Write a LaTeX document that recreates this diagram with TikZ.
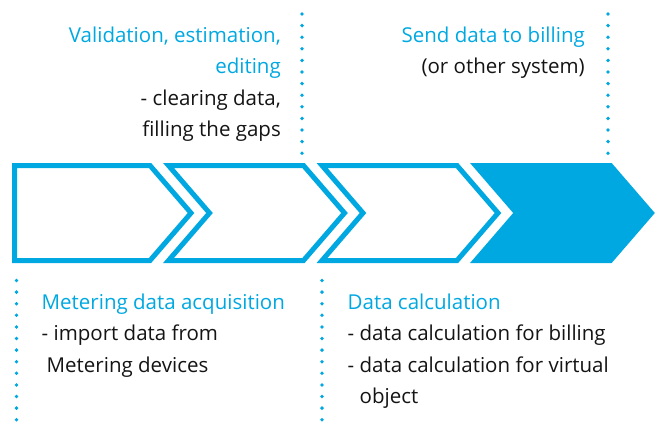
\documentclass[tikz,border=0pt]{standalone}
\usepackage{fontspec}
\setmainfont{Open Sans}
\usepackage{xcolor}
\usepackage{tikz}
\usetikzlibrary{positioning}

\definecolor{procblue}{RGB}{0,168,225}
\definecolor{textblack}{RGB}{20,20,20}

\tikzset{
  stepbox/.style={draw=procblue, line width=5pt, line join=miter},
  lastbox/.style={stepbox, fill=procblue},
  dotline/.style={draw=procblue, line width=3.8pt, line cap=round, dash pattern=on 0pt off 11.6pt},
  blocktext/.style={inner sep=0pt, text=textblack, font=\fontsize{20.5}{31.5}\selectfont}
}

\begin{document}
\begin{tikzpicture}[x=1pt,y=-1pt]
\useasboundingbox (0,0) rectangle (660,421);

% process steps
\draw[stepbox] (14.5,165.5) -- (150,165.5) -- (191,213) -- (150,260.5) -- (14.5,260.5) -- cycle;
\foreach \dx in {153.5,307}
  \draw[stepbox, xshift=\dx] (15,165.5) -- (150,165.5) -- (191,213) -- (150,260.5) -- (15,260.5) -- (56,213) -- cycle;
\draw[lastbox, xshift=460.5] (15,165.5) -- (150,165.5) -- (191,213) -- (150,260.5) -- (15,260.5) -- (56,213) -- cycle;

% dotted separators
\draw[dotline] (16.5,280.5) -- (16.5,432);
\draw[dotline] (322,280.5) -- (322,432);
\draw[dotline] (302,14) -- (302,153.5);
\draw[dotline] (608,14) -- (608,153.5);

% step texts
\node[blocktext, anchor=north east, align=right] (vee) at (281,26.5)
  {\textcolor{procblue}{Validation, estimation,}\\ \textcolor{procblue}{editing}\\ - clearing data,\\ filling the gaps};
\node[blocktext, anchor=north east, align=right] (billing) at (585,26.5)
  {\textcolor{procblue}{Send data to billing}\\ (or other system)};
\node[blocktext, anchor=north west, align=left] (acq) at (41.5,293.5)
  {\textcolor{procblue}{Metering data acquisition}\\ - import data from\\ \hspace{5pt}Metering devices};
\node[blocktext, anchor=north west, align=left] (calc) at (347.5,293.5)
  {\textcolor{procblue}{Data calculation}\\ - data calculation for billing\\ - data calculation for virtual\\ \phantom{- }object};

\end{tikzpicture}
\end{document}
